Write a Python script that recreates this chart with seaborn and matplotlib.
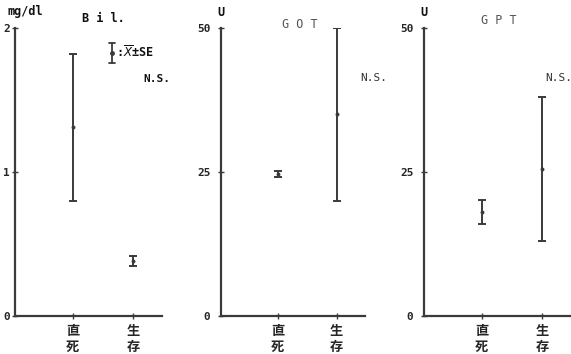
import matplotlib
matplotlib.use("Agg")
import matplotlib.pyplot as plt
import seaborn as sns
import pandas as pd
from matplotlib.lines import Line2D

# Groups and mean ± SE per liver marker
categories = ["直\n死", "生\n存"]
bil_mean = [1.31, 0.38]
bil_se = [0.51, 0.035]
got_mean = [24.6, 35.0]
got_se = [0.5, 15.0]
gpt_mean = [18.0, 25.5]
gpt_se = [2.1, 12.5]

bil_ticks = [0, 1, 2]
enz_ticks = [0, 25, 50]

sns.set_theme(style="ticks")
plt.rcParams["font.family"] = ["DejaVu Sans", "Noto Sans CJK JP"]

W, H = 571, 354
fig = plt.figure(figsize=(W / 100, H / 100), dpi=100)
fig.patch.set_facecolor("white")

LINE = "#3a3a3a"


def fx(x):
    return x / W


def fy(y):
    return 1 - y / H


def panel(left_px, right_px, means, ses, ylim, yticks, ypad):
    ax = fig.add_axes([fx(left_px), fy(316), fx(right_px - left_px), (316 - 28) / H])
    df = pd.DataFrame({"pos": range(len(categories)), "mean": means, "se": ses})
    ax.errorbar(df["pos"], df["mean"], yerr=df["se"], fmt="none",
                ecolor=LINE, elinewidth=1.4, capsize=3, capthick=1.4)
    sns.scatterplot(data=df, x="pos", y="mean", ax=ax, color=LINE,
                    s=8, edgecolor=LINE, linewidth=0, legend=False, zorder=3)
    ax.set_xlim(-0.96, 1.48)
    ax.set_ylim(*ylim)
    ax.set_xticks(range(len(categories)))
    ax.set_xticklabels(categories, fontsize=9.5, fontweight="bold",
                       family=["Noto Sans CJK JP"], linespacing=1.25)
    ax.set_yticks(yticks)
    ax.set_yticklabels([str(t) for t in yticks], fontsize=8, fontweight="bold",
                       family=["DejaVu Sans Mono"])
    ax.set_xlabel("")
    ax.set_ylabel("")
    ax.tick_params(axis="both", direction="inout", length=5, width=1.0,
                   color=LINE, pad=3)
    ax.tick_params(axis="y", pad=ypad)
    for s in ("top", "right"):
        ax.spines[s].set_visible(False)
    for s in ("left", "bottom"):
        ax.spines[s].set_color(LINE)
        ax.spines[s].set_linewidth(1.6)
    ax.set_facecolor("none")
    return ax


ax1 = panel(15, 162, bil_mean, bil_se, (0, 2), bil_ticks, 1)
ax2 = panel(221, 365, got_mean, got_se, (0, 50), enz_ticks, 5)
ax3 = panel(424, 571, gpt_mean, gpt_se, (0, 50), enz_ticks, 5)

mono = dict(family=["DejaVu Sans Mono"], fontweight="bold", color="#111111")

# Units
fig.text(fx(8), fy(12), "mg/dl", fontsize=8.5, va="center", ha="left", **mono)
fig.text(fx(221), fy(13), "U", fontsize=8.5, va="center", ha="center", **mono)
fig.text(fx(424), fy(13), "U", fontsize=8.5, va="center", ha="center", **mono)

# Panel titles
fig.text(fx(82), fy(19), "B i l.", fontsize=8.5, va="center", ha="left", **mono)
fig.text(fx(282), fy(25), "G O T", fontsize=8.5, va="center", ha="left",
         family=["DejaVu Sans Mono"], color="#555555")
fig.text(fx(481), fy(20), "G P T", fontsize=8.5, va="center", ha="left",
         family=["DejaVu Sans Mono"], color="#555555")

# Significance marks
fig.text(fx(143), fy(79), "N.S.", fontsize=8, va="center", ha="left", **mono)
fig.text(fx(360), fy(78), "N.S.", fontsize=8, va="center", ha="left",
         family=["DejaVu Sans Mono"], color="#333333")
fig.text(fx(545), fy(78), "N.S.", fontsize=8, va="center", ha="left",
         family=["DejaVu Sans Mono"], color="#333333")

# Key: mean ± SE glyph
gx = fx(112)
fig.add_artist(Line2D([gx, gx], [fy(43), fy(63)], color=LINE, lw=1.3))
fig.add_artist(Line2D([gx - fx(3), gx + fx(3)], [fy(43), fy(43)], color=LINE, lw=1.3))
fig.add_artist(Line2D([gx - fx(3), gx + fx(3)], [fy(63), fy(63)], color=LINE, lw=1.3))
fig.add_artist(Line2D([gx], [fy(53)], marker="o", ms=2.5, color=LINE))
fig.text(fx(116), fy(52), r":$\overline{X}$±SE", fontsize=8.5, va="center",
         ha="left", **mono)

fig.savefig("out.png", dpi=100, facecolor="white")
